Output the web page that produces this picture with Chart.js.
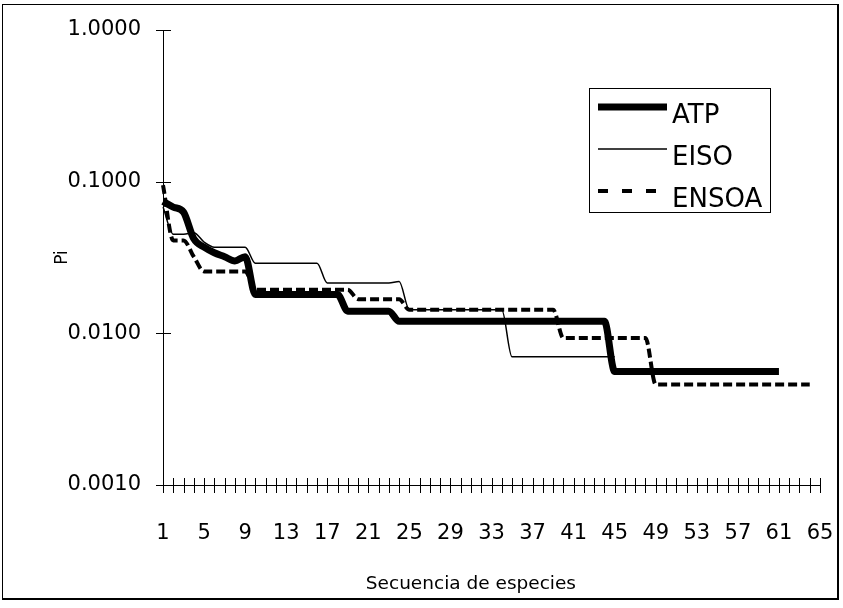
<!DOCTYPE html>
<html>
<head>
<meta charset="utf-8">
<script src="https://cdn.jsdelivr.net/npm/chart.js@4/dist/chart.umd.min.js"></script>
<style>
  html, body { margin: 0; padding: 0; background: #fff; }
  #wrap { width: 843px; height: 608px; }
</style>
</head>
<body>
<div id="wrap"><canvas id="chart" width="843" height="608"></canvas></div>
<script>
// species rank 1..65
const categories = Array.from({ length: 65 }, (_, i) => String(i + 1))
const yTickValues = [0.001, 0.01, 0.1, 1]

// Pi per species
const atp = [
  0.074, 0.068, 0.063, 0.042, 0.037, 0.034, 0.032, 0.030, 0.032,
  0.018, 0.018, 0.018, 0.018, 0.018, 0.018, 0.018, 0.018, 0.018,
  0.014, 0.014, 0.014, 0.014, 0.014,
  0.012, 0.012, 0.012, 0.012, 0.012, 0.012, 0.012, 0.012, 0.012, 0.012, 0.012,
  0.012, 0.012, 0.012, 0.012, 0.012, 0.012, 0.012, 0.012, 0.012, 0.012,
  0.0056, 0.0056, 0.0056, 0.0056, 0.0056, 0.0056, 0.0056, 0.0056, 0.0056,
  0.0056, 0.0056, 0.0056, 0.0056, 0.0056, 0.0056, 0.0056, 0.0056,
]
const eiso = [
  0.068, 0.045, 0.045, 0.046, 0.040,
  0.037, 0.037, 0.037, 0.037,
  0.029, 0.029, 0.029, 0.029, 0.029, 0.029, 0.029,
  0.0215, 0.0215, 0.0215, 0.0215, 0.0215, 0.0215, 0.0215, 0.022,
  0.0143, 0.0143, 0.0143, 0.0143, 0.0143, 0.0143, 0.0143, 0.0143, 0.0143, 0.0143,
  0.007, 0.007, 0.007, 0.007, 0.007, 0.007, 0.007, 0.007, 0.007, 0.007, 0.007,
]
const ensoa = [
  0.095, 0.041, 0.041, 0.032, 0.0256, 0.0256, 0.0256, 0.0256, 0.0256,
  0.0194, 0.0194, 0.0194, 0.0194, 0.0194, 0.0194, 0.0194, 0.0194, 0.0194, 0.0194,
  0.0168, 0.0168, 0.0168, 0.0168, 0.0168,
  0.0143, 0.0143, 0.0143, 0.0143, 0.0143, 0.0143, 0.0143, 0.0143, 0.0143, 0.0143,
  0.0143, 0.0143, 0.0143, 0.0143, 0.0143,
  0.0093, 0.0093, 0.0093, 0.0093, 0.0093, 0.0093, 0.0093, 0.0093, 0.0093,
  0.0046, 0.0046, 0.0046, 0.0046, 0.0046, 0.0046, 0.0046, 0.0046,
  0.0046, 0.0046, 0.0046, 0.0046, 0.0046, 0.0046, 0.0046, 0.0046,
]

const fontFamily = '"DejaVu Sans", sans-serif'

// tick marks that cross the axes, plus the outer frame
const crossTicks = {
  id: 'crossTicks',
  afterDraw(chart) {
    const { ctx, scales: { x, y } } = chart
    ctx.save()
    ctx.strokeStyle = '#000'
    ctx.lineWidth = 1
    ctx.beginPath()
    x.ticks.forEach((t, i) => {
      const px = Math.round(x.getPixelForTick(i)) + 0.5
      ctx.moveTo(px, y.bottom - 7)
      ctx.lineTo(px, y.bottom + 8)
    })
    y.ticks.forEach((t) => {
      const py = Math.round(y.getPixelForValue(t.value)) + 0.5
      ctx.moveTo(x.left - 7, py)
      ctx.lineTo(x.left + 8, py)
    })
    ctx.stroke()
    ctx.strokeRect(2.5, 4.5, 836, 594)
    ctx.lineWidth = 2
    ctx.beginPath()
    ctx.moveTo(838, 4)
    ctx.lineTo(838, 599)
    ctx.lineTo(2, 599)
    ctx.stroke()
    ctx.restore()
  },
}

// boxed legend inside the plot
const boxLegend = {
  id: 'boxLegend',
  afterDraw(chart, args, opts) {
    const { ctx } = chart
    ctx.save()
    ctx.fillStyle = '#fff'
    ctx.fillRect(opts.x, opts.y, opts.w, opts.h)
    ctx.strokeStyle = '#000'
    ctx.lineWidth = 1
    ctx.strokeRect(opts.x + 0.5, opts.y + 0.5, opts.w, opts.h)
    ctx.font = opts.font
    ctx.fillStyle = '#000'
    ctx.textBaseline = 'middle'
    chart.data.datasets.forEach((ds, i) => {
      const cy = opts.y + opts.firstRow + i * opts.rowGap
      ctx.beginPath()
      ctx.lineWidth = ds.borderWidth
      ctx.setLineDash(ds.legendDash || [])
      ctx.moveTo(opts.x + 9, cy - 9)
      ctx.lineTo(opts.x + 78, cy - 9)
      ctx.stroke()
      ctx.setLineDash([])
      ctx.fillText(ds.label, opts.x + 83, cy)
    })
    ctx.restore()
  },
}

new Chart(document.getElementById('chart'), {
  type: 'line',
  data: {
    labels: categories,
    datasets: [
      {
        label: 'ATP',
        data: atp,
        borderColor: '#000',
        borderWidth: 7,
      },
      {
        label: 'EISO',
        data: eiso,
        borderColor: '#000',
        borderWidth: 1.5,
      },
      {
        label: 'ENSOA',
        data: ensoa,
        borderColor: '#000',
        borderWidth: 4,
        borderDash: [9, 4],
        legendDash: [10, 14],
      },
    ],
  },
  options: {
    responsive: false,
    animation: false,
    cubicInterpolationMode: 'monotone',
    elements: {
      point: { radius: 0 },
      line: { borderJoinStyle: 'round', fill: false },
    },
    layout: { padding: { left: 52, right: 23, top: 30, bottom: 10 } },
    scales: {
      x: {
        offset: false,
        grid: { display: false },
        border: { display: true, color: '#000', width: 1 },
        ticks: {
          autoSkip: false,
          maxRotation: 0,
          padding: 28,
          color: '#000',
          font: { family: fontFamily, size: 21 },
          callback: function (v, i) {
            return i % 4 === 0 ? this.getLabelForValue(v) : ''
          },
        },
        title: {
          display: true,
          text: 'Secuencia de especies       ',
          color: '#000',
          font: { family: fontFamily, size: 18.5 },
          padding: { top: 0, bottom: 3 },
        },
        afterFit: (scale) => {
          scale.height = 113
          scale.paddingLeft = 0
          scale.paddingRight = 0
        },
      },
      y: {
        type: 'logarithmic',
        min: 0.001,
        max: 1,
        afterBuildTicks: (scale) => {
          scale.ticks = yTickValues.map((v) => ({ value: v }))
        },
        grid: { display: false },
        border: { display: true, color: '#000', width: 1 },
        ticks: {
          padding: 14,
          color: '#000',
          font: { family: fontFamily, size: 21 },
          callback: (v) => Number(v).toFixed(4),
        },
        title: {
          display: true,
          text: 'Pi',
          color: '#000',
          font: { family: fontFamily, size: 17 },
          padding: 0,
        },
        afterFit: (scale) => { scale.width = 111 },
      },
    },
    plugins: {
      legend: { display: false },
      tooltip: { enabled: false },
      boxLegend: {
        x: 589, y: 88, w: 181, h: 124,
        firstRow: 28, rowGap: 42,
        font: '26px "DejaVu Sans", sans-serif',
      },
    },
  },
  plugins: [crossTicks, boxLegend],
})
</script>
</body>
</html>
